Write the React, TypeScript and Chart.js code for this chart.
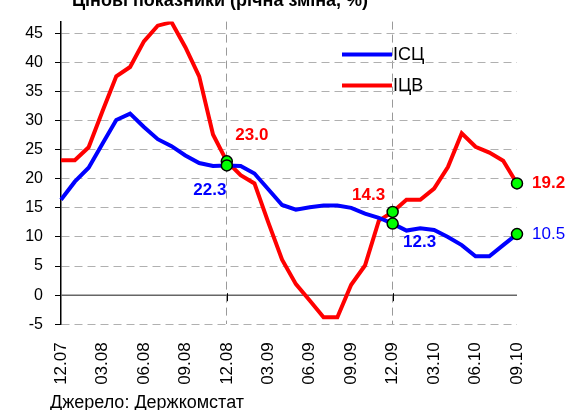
import React, { useEffect, useRef } from 'react';
import { Chart, registerables } from 'chart.js';

Chart.register(...registerables);

// ---- data ----
const months = [
  '12.07', '01.08', '02.08', '03.08', '04.08', '05.08', '06.08', '07.08', '08.08', '09.08', '10.08', '11.08',
  '12.08', '01.09', '02.09', '03.09', '04.09', '05.09', '06.09', '07.09', '08.09', '09.09', '10.09', '11.09',
  '12.09', '01.10', '02.10', '03.10', '04.10', '05.10', '06.10', '07.10', '08.10', '09.10',
];
const cpi = [
  16.4, 19.5, 21.9, 26.0, 30.1, 31.2, 28.9, 26.8, 25.6, 24.0, 22.7, 22.2,
  22.3, 22.2, 20.9, 18.2, 15.5, 14.7, 15.1, 15.4, 15.4, 15.0, 14.0, 13.3,
  12.3, 11.1, 11.5, 11.2, 10.0, 8.6, 6.7, 6.7, 8.6, 10.5,
];
const ppi = [
  23.2, 23.2, 25.4, 31.6, 37.6, 39.2, 43.6, 46.3, 46.9, 42.6, 37.6, 27.6,
  23.0, 20.6, 19.2, 12.5, 6.1, 1.9, -0.9, -3.8, -3.8, 1.8, 5.1, 12.8,
  14.3, 16.4, 16.4, 18.3, 22.0, 27.8, 25.5, 24.5, 23.1, 19.2,
];
const seriesNames = ['ІСЦ', 'ІЦВ'];
const highlighted = [12, 24, 33];
const yearMarks = [12, 24];
const yMin = -5;
const yMax = 47;
const yStep = 5;
const titleText = 'Цінові показники (річна зміна, %)';
const sourceText = 'Джерело: Держкомстат';

// ---- styles ----
const FONT = "'Liberation Sans', Arial, Helvetica, sans-serif";
const BLUE = '#0000ff';
const RED = '#ff0000';
const GRID = '#b0b0b0';

// label placement (style only): per dataset, per highlighted index
const labelStyle: Record<number, Record<number, { dx: number; dy: number; bold: boolean; align: CanvasTextAlign }>> = {
  0: {
    12: { dx: -17, dy: 25, bold: true, align: 'center' },
    24: { dx: 27, dy: 19, bold: true, align: 'center' },
    33: { dx: 15, dy: 0, bold: false, align: 'left' },
  },
  1: {
    12: { dx: 25, dy: -26, bold: true, align: 'center' },
    24: { dx: -24, dy: -17, bold: true, align: 'center' },
    33: { dx: 15, dy: 0, bold: true, align: 'left' },
  },
};

const overlayPlugin = {
  id: 'overlay',
  beforeDatasetsDraw(chart: any) {
    const { ctx, chartArea, scales } = chart;
    const y0 = scales.y.getPixelForValue(0);
    ctx.save();
    ctx.strokeStyle = '#666666';
    ctx.lineWidth = 1.5;
    ctx.beginPath();
    ctx.moveTo(chartArea.left, y0);
    ctx.lineTo(chartArea.right, y0);
    ctx.stroke();
    ctx.strokeStyle = '#000000';
    ctx.lineWidth = 1;
    for (const i of yearMarks) {
      const x = Math.round(scales.x.getPixelForValue(i)) + 0.5;
      ctx.beginPath();
      ctx.moveTo(x, y0 - 2);
      ctx.lineTo(x, y0 + 6);
      ctx.stroke();
    }
    ctx.restore();
  },
  afterDatasetsDraw(chart: any) {
    const { ctx } = chart;
    ctx.save();
    chart.data.datasets.forEach((ds: any, d: number) => {
      const meta = chart.getDatasetMeta(d);
      const styles = labelStyle[d];
      highlighted.forEach((i) => {
        const s = styles[i];
        const p = meta.data[i];
        if (!s || !p) return;
        ctx.font = `${s.bold ? 'bold ' : ''}17px ${FONT}`;
        ctx.fillStyle = ds.borderColor;
        ctx.textAlign = s.align;
        ctx.textBaseline = 'middle';
        ctx.fillText(Number(ds.data[i]).toFixed(1), p.x + s.dx, p.y + s.dy);
      });
    });
    ctx.restore();
  },
  afterDraw(chart: any) {
    const { ctx } = chart;
    ctx.save();
    // title (partly cut at top, as in the original)
    ctx.font = `bold 18px ${FONT}`;
    ctx.fillStyle = '#000';
    ctx.textAlign = 'center';
    ctx.textBaseline = 'alphabetic';
    ctx.fillText(titleText, 220, 5.5);
    // legend
    chart.data.datasets.forEach((ds: any, d: number) => {
      const y = 54.5 + d * 31;
      ctx.strokeStyle = ds.borderColor;
      ctx.lineWidth = 4;
      ctx.beginPath();
      ctx.moveTo(342, y);
      ctx.lineTo(392, y);
      ctx.stroke();
      ctx.font = `18px ${FONT}`;
      ctx.fillStyle = '#000';
      ctx.textAlign = 'left';
      ctx.textBaseline = 'middle';
      ctx.fillText(ds.label, 393, y + 0.5);
    });
    // source
    ctx.font = `18px ${FONT}`;
    ctx.fillStyle = '#000';
    ctx.textAlign = 'left';
    ctx.textBaseline = 'alphabetic';
    ctx.fillText(sourceText, 50, 408);
    ctx.restore();
  },
};

export default function App() {
  const canvasRef = useRef<HTMLCanvasElement | null>(null);

  useEffect(() => {
    const canvas = canvasRef.current;
    if (!canvas) return;
    const pointRadius = (c: any) => (highlighted.includes(c.dataIndex) ? 5.5 : 0);
    const chart = new Chart(canvas, {
      type: 'line',
      data: {
        labels: months,
        datasets: [
          {
            label: seriesNames[0],
            data: cpi,
            borderColor: BLUE,
            backgroundColor: BLUE,
            borderWidth: 4,
            tension: 0,
            pointRadius,
            pointBackgroundColor: '#00ff00',
            pointBorderColor: '#000000',
            pointBorderWidth: 1.5,
          },
          {
            label: seriesNames[1],
            data: ppi,
            borderColor: RED,
            backgroundColor: RED,
            borderWidth: 4,
            tension: 0,
            pointRadius,
            pointBackgroundColor: '#00ff00',
            pointBorderColor: '#000000',
            pointBorderWidth: 1.5,
          },
        ],
      },
      options: {
        animation: false,
        responsive: true,
        maintainAspectRatio: false,
        events: [],
        layout: { padding: { top: 14, right: 49, left: 0, bottom: 0 } },
        plugins: {
          legend: { display: false },
          title: { display: false },
          tooltip: { enabled: false },
        },
        scales: {
          x: {
            type: 'category',
            offset: false,
            afterFit: (scale: any) => {
              scale.height = 85.7;
            },
            grid: {
              color: (c: any) => (yearMarks.includes(c.index) ? '#9a9a9a' : 'rgba(0,0,0,0)'),
              lineWidth: 1,
              drawTicks: false,
            },
            border: { display: false, dash: [8, 5] },
            ticks: {
              autoSkip: false,
              minRotation: 90,
              maxRotation: 90,
              padding: 18,
              color: '#000',
              font: { family: FONT, size: 17 },
              callback: (_v: any, i: number) => (i % 3 === 0 ? months[i] : ''),
            },
          },
          y: {
            type: 'linear',
            min: yMin,
            max: yMax,
            afterFit: (scale: any) => {
              scale.width = 61;
            },
            grid: {
              color: (c: any) => (c.tick && c.tick.value === 0 ? 'rgba(0,0,0,0)' : GRID),
              lineWidth: 1,
              tickColor: '#000',
              tickLength: 6,
              tickWidth: 1,
            },
            border: { display: true, color: '#000', width: 1.5, dash: [8, 5] },
            ticks: {
              stepSize: yStep,
              includeBounds: false,
              padding: 12,
              color: '#000',
              font: { family: FONT, size: 16 },
            },
          },
        },
      },
      plugins: [overlayPlugin],
    } as any);
    return () => chart.destroy();
  }, []);

  return (
    <div style={{ position: 'absolute', left: 0, top: 0, width: 566, height: 410, background: '#fff' }}>
      <canvas ref={canvasRef} />
    </div>
  );
}
